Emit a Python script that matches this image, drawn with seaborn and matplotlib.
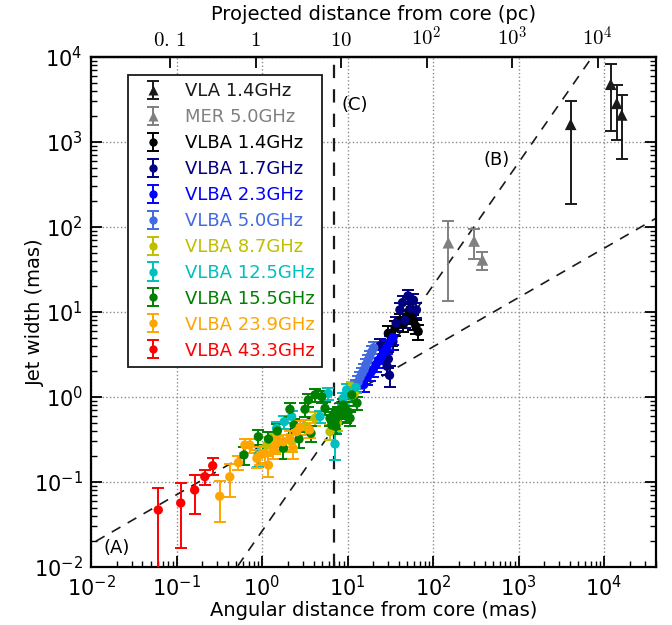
import numpy as np
import pandas as pd
import matplotlib
matplotlib.use("Agg")
import matplotlib.pyplot as plt
import seaborn as sns
from matplotlib.ticker import LogLocator, NullLocator, NullFormatter

# ---------------- data ----------------
series_names = ["VLA 1.4GHz", "MER 5.0GHz", "VLBA 1.4GHz", "VLBA 1.7GHz", "VLBA 2.3GHz",
                "VLBA 5.0GHz", "VLBA 8.7GHz", "VLBA 12.5GHz", "VLBA 15.5GHz",
                "VLBA 23.9GHz", "VLBA 43.3GHz"]
series_colors = ["#1a1a1a", "#808080", "black", "navy", "blue", "royalblue",
                 "#bfbf00", "#00bfbf", "green", "orange", "red"]
series_markers = ["^", "^", "o", "o", "o", "o", "o", "o", "o", "o", "o"]

vla14_x = [4070, 11970, 14070, 16070]
vla14_y = [1615, 4780, 2850, 2080]
vla14_e = [1430, 3450, 1800, 1450]

mer50_x = [151, 302, 378]
mer50_y = [65.3, 68.4, 41.0]
mer50_e = [52, 26, 10]

vlba14_x = [30, 33, 36, 41, 45, 49, 53, 56, 59, 63, 67]
vlba14_y = [5.6, 5.1, 6.5, 8.0, 7.2, 8.8, 10.5, 9.7, 7.7, 6.8, 5.9]
vlba14_e = [1.2, 1.1, 1.3, 1.5, 1.4, 1.6, 1.9, 1.8, 1.5, 1.3, 1.2]

vlba17_x = [24, 27, 29, 30, 31, 34, 37, 41, 44, 47, 51, 55, 59, 64]
vlba17_y = [4.0, 3.2, 2.3, 2.8, 1.8, 4.5, 7.4, 10.6, 12.9, 8.0, 15.5, 11.0, 13.8, 10.6]
vlba17_e = [0.8, 0.7, 0.5, 0.6, 0.5, 0.9, 1.4, 2.0, 2.4, 1.6, 2.8, 2.0, 2.5, 2.0]

vlba23_x = [15.5, 17, 18.5, 20, 21.5, 23, 25, 27, 29, 31, 34]
vlba23_y = [1.4, 1.7, 1.9, 2.1, 2.4, 2.7, 3.0, 3.4, 3.9, 4.4, 5.0]
vlba23_e = [0.25, 0.3, 0.35, 0.4, 0.45, 0.5, 0.55, 0.6, 0.7, 0.8, 0.9]

vlba50_x = [11.0, 11.8, 12.5, 13.3, 14.0, 14.8, 15.6, 16.4, 17.3, 18.2, 19.2, 20.3]
vlba50_y = [1.05, 1.2, 1.35, 1.5, 1.7, 1.9, 2.1, 2.4, 2.7, 3.0, 3.4, 3.8]
vlba50_e = [0.18, 0.2, 0.22, 0.25, 0.28, 0.3, 0.35, 0.4, 0.45, 0.5, 0.55, 0.6]

vlba87_x = [1.14, 1.42, 2.22, 3.18, 4.17, 6.24, 7.6, 9.0, 11.2, 12.0]
vlba87_y = [0.272, 0.298, 0.298, 0.448, 0.562, 0.391, 0.50, 0.70, 1.32, 1.10]
vlba87_e = [0.07, 0.07, 0.07, 0.09, 0.1, 0.08, 0.1, 0.12, 0.2, 0.18]

vlba125_x = [0.906, 1.48, 1.82, 2.22, 4.77, 5.96, 7.14, 8.93, 9.77, 11.0, 12.5]
vlba125_y = [0.21, 0.428, 0.513, 0.589, 0.589, 1.10, 0.28, 0.966, 1.21, 1.05, 1.30]
vlba125_e = [0.06, 0.08, 0.09, 0.1, 0.1, 0.17, 0.1, 0.16, 0.2, 0.17, 0.2]

vlba155_x = [0.615, 0.906, 1.19, 1.51, 1.78, 2.12, 2.37, 2.71, 3.18, 3.48, 3.74, 4.17,
             4.99, 5.46, 6.24, 6.53, 6.8, 7.14, 7.3, 7.5, 7.8, 8.17, 8.5, 8.93, 9.5,
             10.2, 10.7, 11.2, 12.9]
vlba155_y = [0.208, 0.341, 0.32, 0.398, 0.249, 0.716, 0.468, 0.32, 0.716, 0.92, 0.374, 1.06,
             1.01, 0.736, 0.562, 0.468, 0.62, 0.513, 0.45, 0.58, 0.66, 0.616, 0.72, 0.805, 0.60,
             0.671, 0.562, 1.06, 0.85]
vlba155_e = [0.05, 0.07, 0.07, 0.08, 0.06, 0.13, 0.09, 0.07, 0.13, 0.16, 0.08, 0.18,
             0.17, 0.13, 0.1, 0.09, 0.11, 0.09, 0.08, 0.1, 0.11, 0.11, 0.12, 0.14, 0.1,
             0.12, 0.1, 0.18, 0.15]

vlba239_x = [0.32, 0.42, 0.53, 0.63, 0.72, 0.87, 0.95, 1.08, 1.19, 1.36, 1.42, 1.50,
             1.78, 2.12, 2.32, 2.54, 2.78, 3.6]
vlba239_y = [0.068, 0.115, 0.169, 0.272, 0.272, 0.19, 0.208, 0.218, 0.158, 0.238, 0.272,
             0.29, 0.298, 0.327, 0.249, 0.391, 0.44, 0.41]
vlba239_e = [0.034, 0.048, 0.032, 0.05, 0.05, 0.045, 0.05, 0.05, 0.045, 0.05, 0.06, 0.06,
             0.06, 0.07, 0.06, 0.08, 0.08, 0.08]

vlba433_x = [0.0612, 0.112, 0.163, 0.214, 0.265]
vlba433_y = [0.0469, 0.0566, 0.0805, 0.1156, 0.1556]
vlba433_e = [0.039, 0.040, 0.039, 0.023, 0.035]

all_x = [vla14_x, mer50_x, vlba14_x, vlba17_x, vlba23_x, vlba50_x, vlba87_x,
         vlba125_x, vlba155_x, vlba239_x, vlba433_x]
all_y = [vla14_y, mer50_y, vlba14_y, vlba17_y, vlba23_y, vlba50_y, vlba87_y,
         vlba125_y, vlba155_y, vlba239_y, vlba433_y]
all_e = [vla14_e, mer50_e, vlba14_e, vlba17_e, vlba23_e, vlba50_e, vlba87_e,
         vlba125_e, vlba155_e, vlba239_e, vlba433_e]

# reference lines (power laws y = 10**a * x**b) and the vertical line
line_A = (-0.57, 0.58)
line_B = (-1.578, 1.445)
line_C_x = 7.0
PC_PER_MAS = 1.19

top_ticks = [0.1, 1, 10, 100, 1000, 10000]
top_labels = [r"$0.\,1$", r"$1$", r"$10$", r"$10^2$", r"$10^3$", r"$10^4$"]

# ---------------- table ----------------
rows = []
for name, xs, ys, es in zip(series_names, all_x, all_y, all_e):
    for xv, yv, ev in zip(xs, ys, es):
        rows.append({"series": name, "x": xv, "y": yv, "err": ev})
df = pd.DataFrame(rows)

# ---------------- style ----------------
sns.set_theme(style="ticks")
plt.rcParams["font.family"] = ["DejaVu Sans"]
plt.rcParams.update({"axes.linewidth": 1.6, "text.color": "black",
                     "axes.labelcolor": "black", "axes.edgecolor": "black",
                     "xtick.color": "black", "ytick.color": "black"})

fig = plt.figure(figsize=(6.72, 6.25), dpi=100)
ax = fig.add_axes([91 / 672, 1 - 567 / 625, 565 / 672, 510 / 625])
ax.set_xscale("log")
ax.set_yscale("log")
ax.set_xlim(1e-2, 4.05e4)
ax.set_ylim(1e-2, 1e4)

palette = dict(zip(series_names, series_colors))

# error bars
for name, c in zip(series_names, series_colors):
    sub = df[df["series"] == name]
    ax.errorbar(sub["x"], sub["y"], yerr=sub["err"], fmt="none", ecolor=c,
                elinewidth=1.4, capsize=4, capthick=1.4, zorder=3)

# markers via seaborn
tri = df[df["series"].isin(["VLA 1.4GHz", "MER 5.0GHz"])]
circ = df[~df["series"].isin(["VLA 1.4GHz", "MER 5.0GHz"])]
sns.scatterplot(data=circ, x="x", y="y", hue="series", palette=palette,
                marker="o", s=45, edgecolor="none", legend=False, ax=ax, zorder=4)
sns.scatterplot(data=tri, x="x", y="y", hue="series", palette=palette,
                marker="^", s=70, edgecolor="none", legend=False, ax=ax, zorder=4)

# reference lines
xx = np.logspace(-2.5, 5, 200)
ax.plot(xx, 10 ** line_A[0] * xx ** line_A[1], ls=(0, (6, 5)), color="k", lw=1.2, zorder=2)
ax.plot(xx, 10 ** line_B[0] * xx ** line_B[1], ls=(0, (6, 5)), color="k", lw=1.2, zorder=2)
ax.axvline(line_C_x, ls=(0, (6, 5)), color="k", lw=1.6, zorder=2)

ax.text(0.0201, 0.0167, "(A)", fontsize=13, ha="center", va="center")
ax.text(561, 614, "(B)", fontsize=13, ha="center", va="center")
ax.text(12.2, 2720, "(C)", fontsize=13, ha="center", va="center")

# axes
ax.xaxis.set_major_locator(LogLocator(base=10, numticks=100))
ax.xaxis.set_minor_locator(LogLocator(base=10, subs=np.arange(2, 10), numticks=100))
ax.xaxis.set_minor_formatter(NullFormatter())
ax.yaxis.set_major_locator(LogLocator(base=10, numticks=100))
ax.yaxis.set_minor_locator(LogLocator(base=10, subs=np.arange(2, 10), numticks=100))
ax.yaxis.set_minor_formatter(NullFormatter())
ax.tick_params(which="both", direction="in", top=False, right=True, labelsize=15)
ax.tick_params(which="major", length=8, width=1.3, pad=6)
ax.tick_params(which="minor", length=4, width=1.0)
ax.grid(True, which="major", ls=":", color="0.55", lw=1.0)
ax.set_axisbelow(True)
ax.set_xlabel("Angular distance from core (mas)", fontsize=14, labelpad=0)
ax.set_ylabel("Jet width (mas)", fontsize=14, labelpad=-8)

secax = ax.secondary_xaxis("top", functions=(lambda v: v * PC_PER_MAS, lambda v: v / PC_PER_MAS))
secax.set_xticks(top_ticks)
secax.set_xticklabels(top_labels)
secax.xaxis.set_minor_locator(NullLocator())
secax.tick_params(which="major", direction="in", length=8, width=1.3, labelsize=15, pad=5)
for lbl in secax.get_xticklabels():
    lbl.set_math_fontfamily("cm")
secax.set_xlabel("Projected distance from core (pc)", fontsize=14, labelpad=4)

# legend
handles = []
for name, c, m in zip(series_names, series_colors, series_markers):
    h = ax.errorbar([np.nan], [np.nan], yerr=[np.nan], fmt=m, color=c, ecolor=c,
                    ms=7 if m == "^" else 6, mec="none", capsize=4, elinewidth=1.4,
                    capthick=1.4, label=name)
    handles.append(h)
leg = ax.legend(handles=handles, labels=series_names, loc="upper left",
                bbox_to_anchor=(37 / 565, 492 / 510), borderaxespad=0, fontsize=13,
                numpoints=1, frameon=True, fancybox=False, framealpha=1,
                edgecolor="k", labelspacing=0.44, handletextpad=0.77, handlelength=2.0,
                borderpad=0.4)
leg.get_frame().set_linewidth(1.3)
for t, c in zip(leg.get_texts(), series_colors):
    t.set_color(c)

fig.savefig("out.png", dpi=100)
